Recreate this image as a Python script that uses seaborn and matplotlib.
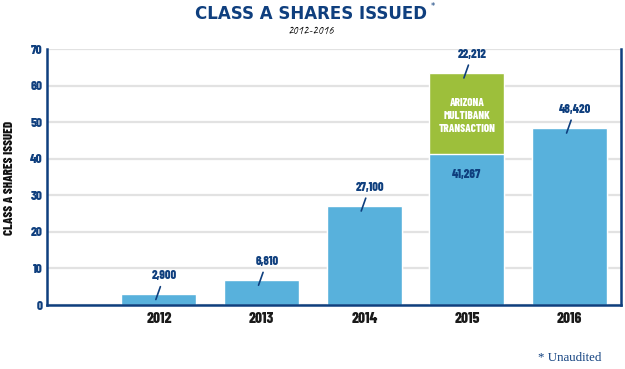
import matplotlib
matplotlib.use('Agg')
import matplotlib.pyplot as plt
import numpy as np
import pandas as pd
import seaborn as sns

# data (thousands of shares)
years = ['2012', '2013', '2014', '2015', '2016']
base_shares = [2.900, 6.810, 27.100, 41.267, 48.420]
arizona_shares = [0, 0, 0, 22.212, 0]
top_labels = ['2,900', '6,810', '27,100', '22,212', '48,420']
inner_label = '41,267'
y_ticks = [0, 10, 20, 30, 40, 50, 60, 70]

NAVY = '#0f3f7e'
BLUE = '#58b1dc'
GREEN = '#9dbf3b'
GRID = '#e2e2e2'
NARROW = ['Barlow Condensed', 'DejaVu Sans']
HAND = ['Caveat', 'Kalam', 'Patrick Hand', 'DejaVu Sans']

sns.set_theme(style='white')
plt.rcParams['font.family'] = ['DejaVu Sans']

df = pd.DataFrame({'year': years, 'base': base_shares, 'arizona': arizona_shares})
df['total'] = df['base'] + df['arizona']

fig = plt.figure(figsize=(6.25, 3.69), dpi=100)
ax = fig.add_axes([0.0752, 0.1734, 0.9184, 0.6938])

# stacked: total in green first, then blue base on top of it
sns.barplot(data=df, x='year', y='total', color=GREEN, saturation=1, width=0.73, ax=ax)
sns.barplot(data=df, x='year', y='base', color=BLUE, saturation=1, width=0.73, ax=ax)

ax.set_xlim(-1.09, 4.5)
ax.set_ylim(0, 70)
ax.set_yticks(y_ticks)
ax.set_axisbelow(True)
ax.yaxis.grid(True, color=GRID, lw=1.6)
ax.xaxis.grid(False)

ax.spines['top'].set_visible(False)
for s in ['left', 'bottom', 'right']:
    ax.spines[s].set_color(NAVY)
    ax.spines[s].set_linewidth(1.8)

ax.set_xlabel('')
ax.set_ylabel('')
ax.set_xticks(np.arange(len(years)))
ax.set_xticklabels(years, family=NARROW, fontweight=800, fontsize=11, color='#1a1a1a')
ax.set_xticks(np.arange(len(years) - 1) + 0.5, minor=True)
ax.tick_params(axis='x', which='major', length=0, pad=5)
ax.tick_params(axis='x', which='minor', length=4, width=1.3, direction='in', color=NAVY)
ax.tick_params(axis='y', length=0, pad=3)
for t in ax.get_yticklabels():
    t.set_family(NARROW)
    t.set_fontweight(800)
    t.set_fontsize(9.5)
    t.set_color(NAVY)

# value labels with leader lines
for i, (lab, tot) in enumerate(zip(top_labels, df['total'])):
    ax.annotate(lab, xy=(i - 0.03, tot - 1.4), xytext=(6, 17), textcoords='offset points',
                ha='center', va='center', family=NARROW, fontweight=800, fontsize=9,
                color=NAVY,
                arrowprops=dict(arrowstyle='-', color=NAVY, lw=1.2, shrinkA=1.5, shrinkB=0))

i15 = years.index('2015')
ax.text(i15, base_shares[i15] - 5.5, inner_label, ha='center', va='center', family=NARROW,
        fontweight=800, fontsize=9, color=NAVY)
ax.text(i15, base_shares[i15] + arizona_shares[i15] / 2 - 0.7, 'ARIZONA\nMULTIBANK\nTRANSACTION',
        ha='center', va='center', family=NARROW, fontweight=800, fontsize=8,
        color='white', linespacing=1.4)

fig.text(0.498, 0.963, 'CLASS A SHARES ISSUED', ha='center', va='center', fontsize=12,
         fontweight='heavy', color=NAVY)
fig.text(0.693, 0.982, '*', ha='center', va='center', fontsize=6, color=NAVY)
fig.text(0.498, 0.917, '2012-2016', ha='center', va='center', fontsize=8.5,
         style='italic', fontweight='bold', family=HAND, color='#000000')
fig.text(0.0145, 0.519, 'CLASS A SHARES ISSUED', rotation=90, ha='center', va='center',
         family=NARROW, fontweight=800, fontsize=9.3, color='#111111')
fig.text(0.962, 0.03, '* Unaudited', ha='right', va='center',
         family=['Liberation Serif', 'DejaVu Serif'], fontsize=9.3, color=NAVY)

fig.savefig('out.png', dpi=100)
